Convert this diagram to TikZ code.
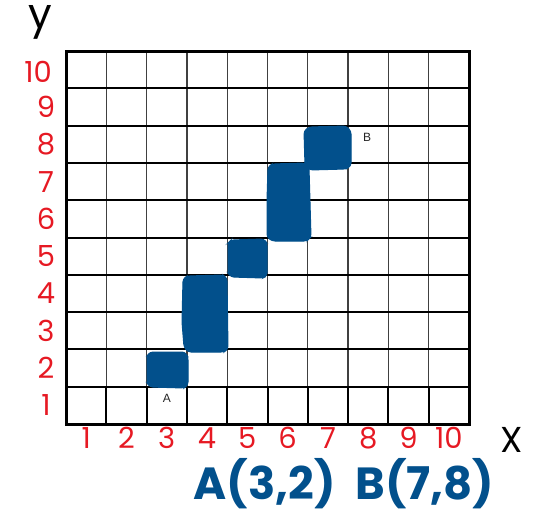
\documentclass[tikz,border=0pt]{standalone}
\usepackage{fontspec}
\setmainfont{Poppins}
\newfontfamily\smallsans{Liberation Sans}
\definecolor{axred}{RGB}{230,25,35}
\definecolor{pblue}{RGB}{2,80,140}
\begin{document}
\begin{tikzpicture}[x=1pt,y=-1pt,
  numlab/.style={text=axred,font=\fontsize{29}{29}\selectfont,inner sep=0pt},
  vline/.style={line width=1.3pt,black!75},
  vlinebot/.style={line width=2pt,black},
  hline/.style={line width=2pt,black},
  border/.style={line width=3pt,black},
  blob/.style={fill=pblue,draw=pblue,line width=1pt,rounded corners=3pt},
  ptlab/.style={font=\smallsans\fontsize{12}{12}\selectfont,text=black!85,inner sep=0pt},
  bigtxt/.style={text=pblue,font=\fontsize{45}{45}\selectfont\bfseries,inner sep=0pt}]
\useasboundingbox (0,0) rectangle (533,515);
% grid
\foreach \i in {1,...,9}{
  \draw[vline] ({66+\i*40.3},51) -- ({66+\i*40.3},386.7);
  \draw[vlinebot] ({66+\i*40.3},386.7) -- ({66+\i*40.3},424);
}
\foreach \j in {1,...,9}
  \draw[hline] (66,{51+\j*37.3}) -- (469,{51+\j*37.3});
\draw[border] (66,51) rectangle (469,424);
% filled cells
\fill[blob] (147,356) -- (150,352) -- (185,352) -- (188,357) -- (188,385) -- (184,388) -- (150,387) -- (147,383) -- cycle;
\fill[blob] (183,279) -- (187,276) -- (223,275) -- (227,278) -- (228,349) -- (224,352) -- (188,352) -- (184,347) -- (182,322) -- cycle;
\fill[blob] (228,243) -- (231,240) -- (264,239) -- (267,243) -- (267,276) -- (263,278) -- (231,277) -- (228,273) -- cycle;
\fill[blob] (268,167) -- (272,164) -- (305,163) -- (309,167) -- (311,237) -- (307,241) -- (272,241) -- (267,237) -- (267,200) -- cycle;
\fill[blob] (304,131) -- (309,127) -- (346,126) -- (351,131) -- (351,166) -- (346,169) -- (310,170) -- (305,166) -- cycle;
% point labels
\node[ptlab] (la) at (167,398) {A};
\node[ptlab] (lb) at (367,137) {B};
% y axis numbers
\foreach \n in {1,...,9}
  \node[numlab] (y\n) at (46,{424-(\n-0.5)*37.3}) {\n};
\node[numlab] (y10) at (38,72) {10};
% x axis numbers
\foreach \n in {1,...,10}
  \node[numlab] (x\n) at ({66+(\n-0.5)*40.3},438) {\n};
% axis names
\node[font=\fontsize{36}{36}\selectfont,inner sep=0pt] (xname) at (512,440) {X};
\node[font=\fontsize{42}{42}\selectfont,inner sep=0pt,anchor=base] (yname) at (40,28) {y};
% coordinates
\node[bigtxt,anchor=base] (coords) at (344,499) {A(3,2)\hspace{0.45em}B(7,8)};
\end{tikzpicture}
\end{document}
